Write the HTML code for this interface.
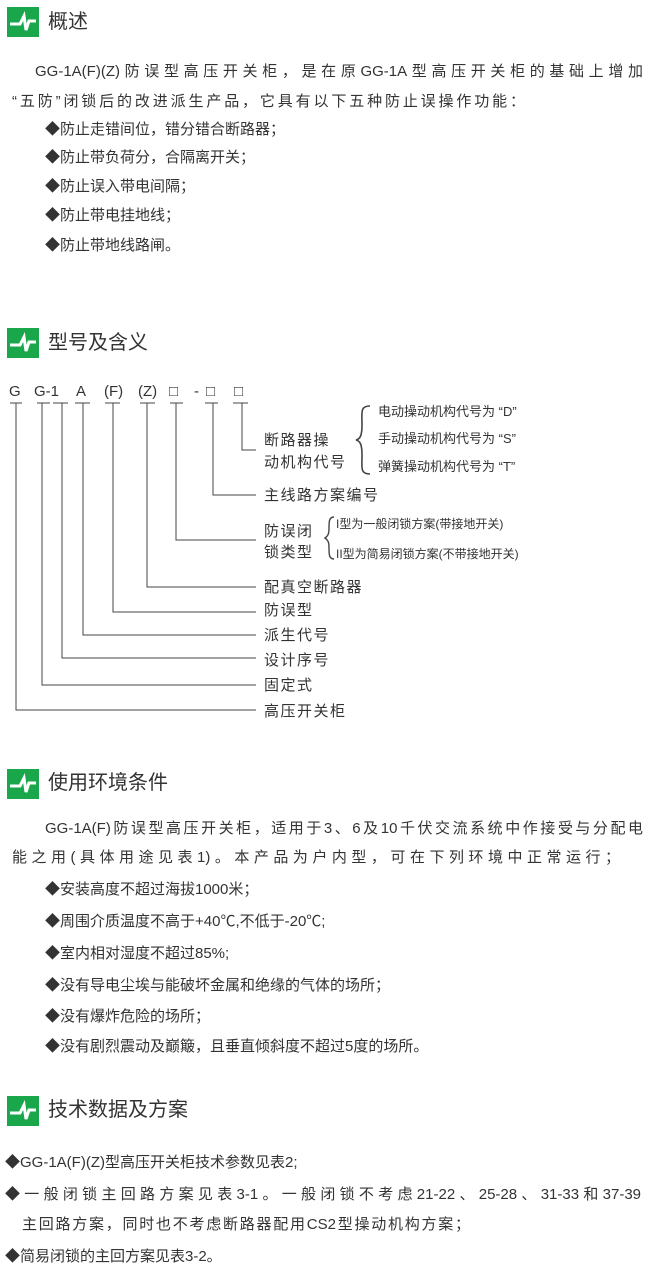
<!DOCTYPE html>
<html><head><meta charset="utf-8"><style>
body{margin:0;width:656px;height:1284px;background:#fff;position:relative;overflow:hidden;font-family:"Liberation Sans","Noto Sans CJK SC",sans-serif;color:#333}
.t{position:absolute;font-size:15px;line-height:20px;white-space:nowrap}
.j{position:absolute;font-size:15px;line-height:20px;white-space:nowrap;text-align:justify;text-align-last:justify;text-justify:inter-character}
.h{position:absolute;left:48px;font-size:20px;line-height:26px;color:#333;white-space:nowrap}
.ic{position:absolute;left:7px;width:32px;height:30px;background:#1aa64a}
</style></head><body>
<div class="ic" style="top:7px"><svg width="32" height="30"><polyline points="3,17 13,17 17,9 19,23 22,14 29,14" fill="none" stroke="#fff" stroke-width="3"/></svg></div>
<div class="h" style="top:9px">概述</div>
<div class="j" style="top:62px;left:35px;width:608px">GG-1A(F)(Z)防误型高压开关柜，是在原GG-1A型高压开关柜的基础上增加</div>
<div class="j" style="top:92px;left:12px;width:513px">“五防”闭锁后的改进派生产品，它具有以下五种防止误操作功能：</div>
<div class="t" style="top:120px;left:45px">◆防止走错间位，错分错合断路器；</div>
<div class="t" style="top:148px;left:45px">◆防止带负荷分，合隔离开关；</div>
<div class="t" style="top:177px;left:45px">◆防止误入带电间隔；</div>
<div class="t" style="top:206px;left:45px">◆防止带电挂地线；</div>
<div class="t" style="top:236px;left:45px">◆防止带地线路闸。</div>

<div class="ic" style="top:328px"><svg width="32" height="30"><polyline points="3,17 13,17 17,9 19,23 22,14 29,14" fill="none" stroke="#fff" stroke-width="3"/></svg></div>
<div class="h" style="top:330px">型号及含义</div>

<svg style="position:absolute;left:0;top:0" width="656" height="1284">
<g font-family="Liberation Sans, Noto Sans CJK SC, sans-serif" font-size="15" fill="#333">
<text x="9" y="396">G</text><text x="34" y="396">G-1</text><text x="76" y="396">A</text>
<text x="104" y="396">(F)</text><text x="138" y="396">(Z)</text>
<text x="169" y="396">□</text><text x="194" y="396">-</text><text x="206" y="396">□</text><text x="234" y="396">□</text>
</g>
<g stroke="#444" stroke-width="1" fill="none">
<path d="M10 403H22M37 403H50M53 403H68M75 403H90M105 403H120M140 403H155M170 403H183M205 403H218M233 403H248"/>
<path d="M242 403V450H256M213 403V495H256M176 403V540H256M147 403V587H256M113 403V612H256M83 403V635H256M62 403V658H256M42 403V685H256M16 403V710H256"/>
<path d="M370 406 C360 406 362 412 362 425 C362 436 360 439 356 440 C360 441 362 444 362 455 C362 468 360 474 370 474" stroke-width="1.6"/>
<path d="M334 517 C329 517 329 522 329 528 C329 534 328 536 325 538 C328 540 329 542 329 548 C329 554 329 559 334 559" stroke-width="1.4"/>
</g>
<g font-family="Liberation Sans, Noto Sans CJK SC, sans-serif" fill="#333">
<g font-size="15" letter-spacing="1.5">
<text x="264" y="445">断路器操</text><text x="264" y="467">动机构代号</text>
<text x="264" y="500">主线路方案编号</text>
<text x="264" y="536">防误闭</text><text x="264" y="557">锁类型</text>
<text x="264" y="592">配真空断路器</text>
<text x="264" y="615">防误型</text>
<text x="264" y="640">派生代号</text>
<text x="264" y="665">设计序号</text>
<text x="264" y="690">固定式</text>
<text x="264" y="716">高压开关柜</text>
</g>
<g font-size="13">
<text x="378" y="416">电动操动机构代号为 “D”</text>
<text x="378" y="443">手动操动机构代号为 “S”</text>
<text x="378" y="471">弹簧操动机构代号为 “T”</text>
</g>
<g font-size="12">
<text x="336" y="528">I型为一般闭锁方案(带接地开关)</text>
<text x="336" y="558">II型为简易闭锁方案(不带接地开关)</text>
</g>
</g>
</svg>

<div class="ic" style="top:769px"><svg width="32" height="30"><polyline points="3,17 13,17 17,9 19,23 22,14 29,14" fill="none" stroke="#fff" stroke-width="3"/></svg></div>
<div class="h" style="top:770px">使用环境条件</div>
<div class="j" style="top:819px;left:45px;width:598px">GG-1A(F)防误型高压开关柜，适用于3、6及10千伏交流系统中作接受与分配电</div>
<div class="j" style="top:848px;left:12px;width:608px">能之用(具体用途见表1)。本产品为户内型，可在下列环境中正常运行；</div>
<div class="t" style="top:880px;left:45px">◆安装高度不超过海拔1000米；</div>
<div class="t" style="top:912px;left:45px">◆周围介质温度不高于+40℃,不低于-20℃;</div>
<div class="t" style="top:944px;left:45px">◆室内相对湿度不超过85%;</div>
<div class="t" style="top:976px;left:45px">◆没有导电尘埃与能破坏金属和绝缘的气体的场所；</div>
<div class="t" style="top:1007px;left:45px">◆没有爆炸危险的场所；</div>
<div class="t" style="top:1037px;left:45px">◆没有剧烈震动及巅簸，且垂直倾斜度不超过5度的场所。</div>

<div class="ic" style="top:1096px"><svg width="32" height="30"><polyline points="3,17 13,17 17,9 19,23 22,14 29,14" fill="none" stroke="#fff" stroke-width="3"/></svg></div>
<div class="h" style="top:1097px">技术数据及方案</div>
<div class="t" style="top:1153px;left:5px">◆GG-1A(F)(Z)型高压开关柜技术参数见表2;</div>
<div class="j" style="top:1185px;left:5px;width:636px">◆一般闭锁主回路方案见表3-1。一般闭锁不考虑21-22、25-28、31-33和37-39</div>
<div class="j" style="top:1215px;left:22px;width:448px">主回路方案，同时也不考虑断路器配用CS2型操动机构方案；</div>
<div class="t" style="top:1247px;left:5px">◆简易闭锁的主回方案见表3-2。</div>
</body></html>
